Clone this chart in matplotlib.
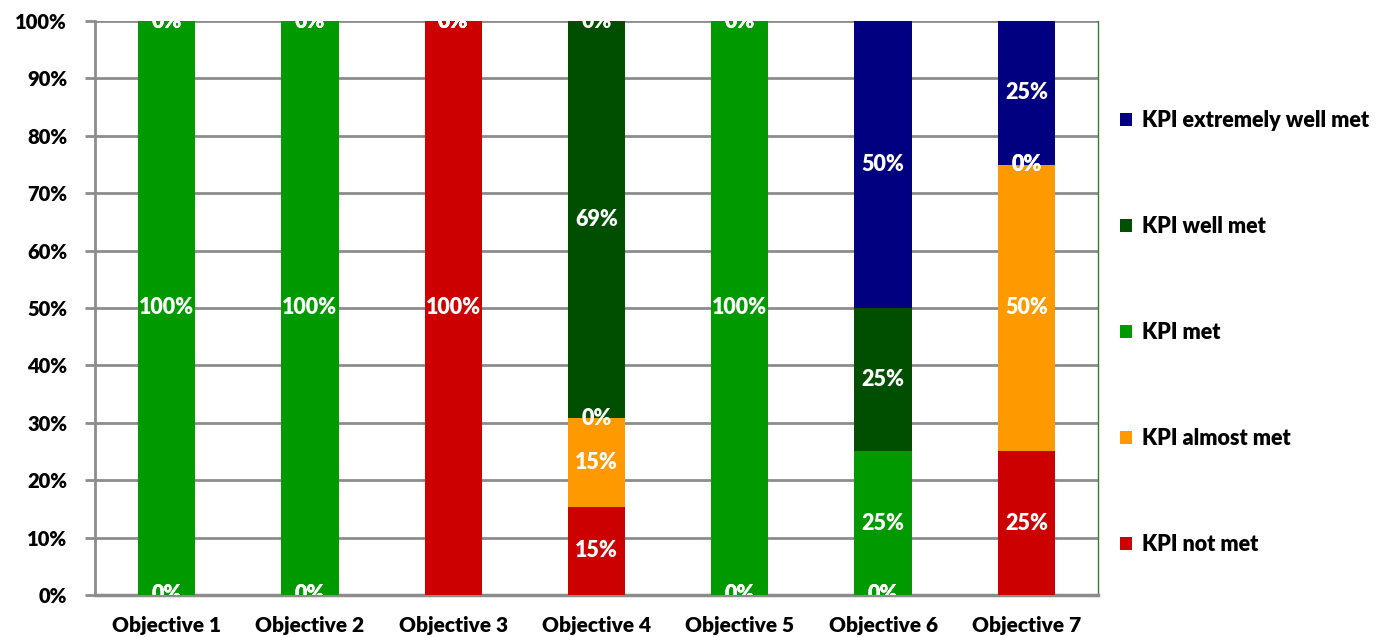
import matplotlib.pyplot as plt
import numpy as np

# Share of KPIs per objective (stacked bottom -> top)
objectives = ['Objective 1', 'Objective 2', 'Objective 3', 'Objective 4',
              'Objective 5', 'Objective 6', 'Objective 7']
series = ['KPI not met', 'KPI almost met', 'KPI met', 'KPI well met',
          'KPI extremely well met']
not_met = [0, 0, 100, 15.38, 0, 0, 25]
almost_met = [0, 0, 0, 15.38, 0, 0, 50]
met = [100, 100, 0, 0, 100, 25, 0]
well_met = [0, 0, 0, 69.23, 0, 25, 0]
extremely_met = [0, 0, 0, 0, 0, 50, 25]
colors = ['#CC0000', '#FF9900', '#009900', '#004F00', '#000080']

values = [not_met, almost_met, met, well_met, extremely_met]

plt.rcParams['font.family'] = ['Lato', 'DejaVu Sans']
W = 'heavy'

fig = plt.figure(figsize=(13.76, 6.37), dpi=100)
ax = fig.add_axes([0.069, 0.066, 0.729, 0.901])

x = np.arange(len(objectives))
bottom = np.zeros(len(objectives))
width = 0.4
for name, vals, col in zip(series, values, colors):
    vals = np.array(vals, dtype=float)
    ax.bar(x, vals, width, bottom=bottom, color=col, label=name, zorder=3)
    # Excel-style labels, also for empty segments, clipped to the plot area
    for xi, b, v in zip(x, bottom, vals):
        ax.text(xi, b + v / 2, f'{v:.0f}%', ha='center', va='center',
                color='white', fontsize=15.5, fontweight=W, zorder=4,
                clip_on=True)
    bottom += vals

ax.set_xlim(-0.5, len(objectives) - 0.5)
ax.set_ylim(0, 100)
ax.set_yticks(np.arange(0, 101, 10))
ax.set_yticklabels([f'{t}%' for t in range(0, 101, 10)], fontsize=14.5,
                   fontweight=W)
ax.set_xticks(x)
ax.set_xticklabels(objectives, fontsize=15, fontweight=W)
ax.tick_params(axis='x', length=0, pad=15)
ax.tick_params(axis='y', length=7, width=2, color='#8C8C8C', pad=13)

ax.yaxis.grid(True, color='#8C8C8C', linewidth=2, zorder=0)
ax.set_axisbelow(True)
ax.spines['top'].set_visible(False)
ax.spines['right'].set_color('#3A7A3A')
ax.spines['right'].set_linewidth(1)
ax.spines['left'].set_color('#8C8C8C')
ax.spines['left'].set_linewidth(2)
ax.spines['bottom'].set_color('#8C8C8C')
ax.spines['bottom'].set_linewidth(2.5)

handles, labels = ax.get_legend_handles_labels()
leg = fig.legend(handles[::-1], labels[::-1], loc='upper left',
                 bbox_to_anchor=(0.8, 0.858), frameon=False,
                 fontsize=15.5, handlelength=0.55, handleheight=0.55,
                 handletextpad=0.45, labelspacing=3.95)
for t in leg.get_texts():
    t.set_fontweight(W)

fig.savefig('out.png', dpi=100)
